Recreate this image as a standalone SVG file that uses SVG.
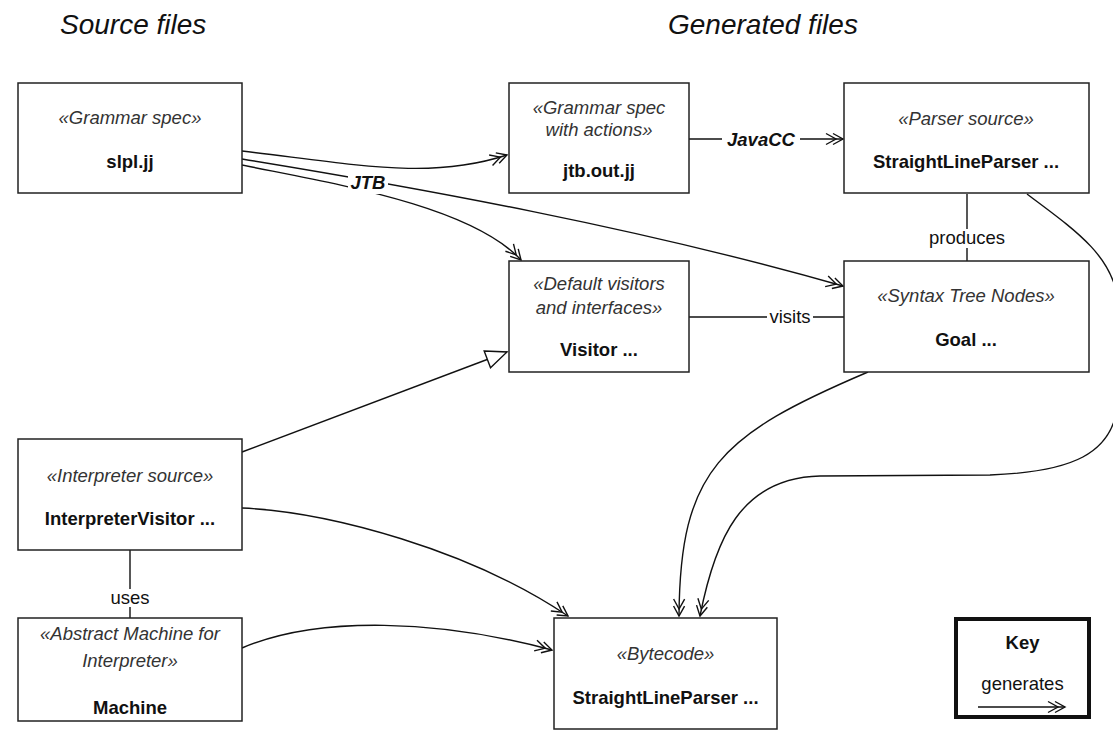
<svg xmlns="http://www.w3.org/2000/svg" width="1113" height="731" viewBox="0 0 1113 731">
<style>
text{font-family:"Liberation Sans",Arial,Helvetica,sans-serif;font-size:18.5px;fill:#111}
.title{font-size:28px;font-style:italic}
.st{font-style:italic;fill:#333}
.nm{font-weight:bold}
.lbl{fill:#111}
.blbl{font-weight:bold;font-style:italic}
.box{fill:#fff;stroke:#222;stroke-width:1.5}
.conn{fill:none;stroke:#111;stroke-width:1.4}
.gen{marker-end:url(#dbl)}
.bg{fill:#fff;stroke:none}
</style>
<defs>
<marker id="dbl" markerUnits="userSpaceOnUse" markerWidth="30" markerHeight="20" viewBox="-20 -10 30 20" refX="0" refY="0" orient="auto" overflow="visible">
<path d="M-10,-5.5 L0,0 L-10,5.5 M-17,-5.5 L-7,0 L-17,5.5" fill="none" stroke="#111" stroke-width="1.4"/>
</marker>
<marker id="tri" markerUnits="userSpaceOnUse" markerWidth="30" markerHeight="30" viewBox="-25 -15 30 30" refX="0" refY="0" orient="auto" overflow="visible">
<path d="M-21,-9 L0,0 L-21,9 Z" fill="#fff" stroke="#111" stroke-width="1.4"/>
</marker>
</defs>
<rect width="1113" height="731" fill="#fff"/>
<text class="title" x="60" y="34">Source files</text>
<text class="title" x="668" y="34">Generated files</text>

<g id="connectors">
<path class="conn gen" d="M242,151 C360,165 430,180 507,155"/>
<path class="conn gen" d="M242,159 C420,188 640,228 843,286"/>
<path class="conn gen" d="M242,165 C330,183 470,205 521,260"/>
<path class="conn gen" d="M689,139 L843,139"/>
<path class="conn" d="M967,194 L967,261"/>
<path class="conn" d="M689,317 L844,317"/>
<path class="conn" d="M242,452 L507,352" marker-end="url(#tri)"/>
<path class="conn gen" d="M242,508 C330,512 470,550 568,616"/>
<path class="conn gen" d="M242,648 C320,615 440,620 552,650"/>
<path class="conn gen" d="M868,372 C720,435 680,470 679,616"/>
<path class="conn gen" d="M1027,194 C1075,230 1112,255 1118,300 L1118,400 C1115,455 1070,472 990,475 L820,476 C740,478 715,540 700,616"/>
<path class="conn" d="M130,550 L130,618"/>
<rect class="bg" x="722" y="128" width="78" height="22"/>
<text class="blbl" x="761" y="145.5" text-anchor="middle">JavaCC</text>
<rect class="bg" x="348" y="172" width="40" height="22"/>
<text class="blbl" x="368" y="188.5" text-anchor="middle">JTB</text>
<rect class="bg" x="926" y="229" width="82" height="19"/>
<text class="lbl" x="967" y="244" text-anchor="middle">produces</text>
<rect class="bg" x="767" y="307" width="46" height="20"/>
<text class="lbl" x="790" y="323" text-anchor="middle">visits</text>
<rect class="bg" x="108" y="589" width="44" height="18"/>
<text class="lbl" x="130" y="604" text-anchor="middle">uses</text>
</g>

<g id="slpl">
<rect class="box" x="18" y="83" width="224" height="110"/>
<text class="st" x="130" y="124" text-anchor="middle">«Grammar spec»</text>
<text class="nm" x="130" y="168" text-anchor="middle">slpl.jj</text>
</g>
<g id="jtbout">
<rect class="box" x="509" y="83" width="180" height="110"/>
<text class="st" x="599" y="113.5" text-anchor="middle">«Grammar spec</text>
<text class="st" x="599" y="136" text-anchor="middle">with actions»</text>
<text class="nm" x="599" y="177" text-anchor="middle">jtb.out.jj</text>
</g>
<g id="parser">
<rect class="box" x="844" y="83" width="245" height="110"/>
<text class="st" x="966" y="124.5" text-anchor="middle">«Parser source»</text>
<text class="nm" x="966" y="168" text-anchor="middle">StraightLineParser ...</text>
</g>
<g id="visitors">
<rect class="box" x="509" y="261" width="180" height="111"/>
<text class="st" x="599" y="290" text-anchor="middle">«Default visitors</text>
<text class="st" x="599" y="313.5" text-anchor="middle">and interfaces»</text>
<text class="nm" x="599" y="356" text-anchor="middle">Visitor ...</text>
</g>
<g id="syntaxtree">
<rect class="box" x="844" y="261" width="245" height="111"/>
<text class="st" x="966" y="301.5" text-anchor="middle">«Syntax Tree Nodes»</text>
<text class="nm" x="966" y="346" text-anchor="middle">Goal ...</text>
</g>
<g id="interpreter">
<rect class="box" x="18" y="439" width="224" height="111"/>
<text class="st" x="130" y="481.5" text-anchor="middle">«Interpreter source»</text>
<text class="nm" x="130" y="525" text-anchor="middle">InterpreterVisitor ...</text>
</g>
<g id="machine">
<rect class="box" x="18" y="618" width="224" height="103"/>
<text class="st" x="130" y="640" text-anchor="middle">«Abstract Machine for</text>
<text class="st" x="130" y="667" text-anchor="middle">Interpreter»</text>
<text class="nm" x="130" y="714" text-anchor="middle">Machine</text>
</g>
<g id="bytecode">
<rect class="box" x="554" y="618" width="223" height="111"/>
<text class="st" x="665.5" y="659.5" text-anchor="middle">«Bytecode»</text>
<text class="nm" x="665.5" y="704" text-anchor="middle">StraightLineParser ...</text>
</g>
<g id="key">
<rect x="956" y="619" width="133" height="98" fill="#fff" stroke="#111" stroke-width="4"/>
<text class="nm" x="1022.5" y="648.5" text-anchor="middle">Key</text>
<text class="lbl" x="1022.5" y="690" text-anchor="middle">generates</text>
<path class="conn gen" d="M978,707 L1065,707"/>
</g>
</svg>
